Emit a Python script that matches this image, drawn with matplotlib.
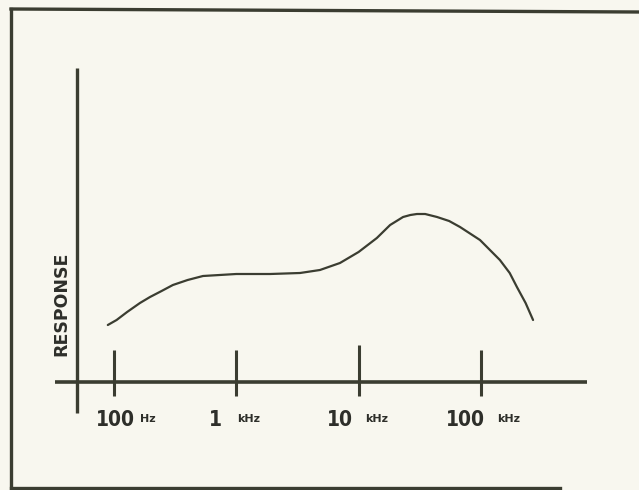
import matplotlib
matplotlib.use("Agg")
from matplotlib import pyplot as plt
import numpy as np

# frequency (Hz) and relative response
freq = [89, 105, 128, 163, 197, 245, 303, 400, 534, 1000, 1890, 3320,
        4830, 7040, 10000, 14100, 18100, 23100, 26500, 30000, 35000, 43800,
        55000, 67500, 98300, 143000, 172000, 197000, 232000, 267000]
resp = [57, 62, 70, 79, 85, 91, 97, 102, 106, 108, 108, 109,
        112, 119, 130, 144, 157, 165, 167, 168, 168, 165,
        161, 155, 142, 122, 109, 95, 79, 62]

tick_freq = [100, 1000, 10000, 100000]
tick_top = [32, 32, 37, 32]
tick_num = ["100", "1", "10", "100"]
tick_unit = ["Hz", "kHz", "kHz", "kHz"]
# right edge of the number / left edge of the unit, in px of the drawing
num_right = [135, 222, 353, 485]
unit_left = [140, 237, 365, 497]

ink = "#3b3d31"
text_ink = "#2e2f2a"
paper = "#f8f7ef"


def px2f(px):  # horizontal pixel -> frequency
    return 10**(2 + (px - 114) / 122.3)


fig = plt.figure(figsize=(6.39, 4.90), dpi=100)
fig.patch.set_facecolor(paper)
ax = fig.add_axes([0, 0, 1, 1])
ax.set_facecolor(paper)
ax.set_xscale("log")
# 1 decade ~ 122 px, 100 Hz at x=114 px ; response 0 at y=382 px
ax.set_xlim(px2f(0), px2f(639))
ax.set_ylim(-108, 382)
ax.axis("off")

# border of the figure
fig.add_artist(plt.Line2D([11/639, 11/639], [1-9/490, 1-488/490], color=ink, lw=2.4))
fig.add_artist(plt.Line2D([11/639, 1.0], [1-9/490, 1-12/490], color=ink, lw=2.4))
fig.add_artist(plt.Line2D([11/639, 560/639], [1-488/490, 1-488/490], color=ink, lw=2.4))

# axes drawn by hand
ax.plot([px2f(77), px2f(77)], [-31, 314], color=ink, lw=2.4, solid_capstyle="butt")
ax.plot([px2f(55), px2f(587)], [0, 0], color=ink, lw=2.6, solid_capstyle="butt")

for f, top in zip(tick_freq, tick_top):
    ax.plot([f, f], [-14, top], color=ink, lw=2.2, solid_capstyle="butt")

# response curve
ax.plot(freq, resp, color=ink, lw=1.6, solid_capstyle="round",
        solid_joinstyle="round")

# tick labels: big number + small unit
for n, u, r, l in zip(tick_num, tick_unit, num_right, unit_left):
    ax.text(px2f(r), -38, n, ha="right", va="center", fontsize=15,
            fontweight="bold", fontstretch="condensed", color=text_ink)
    ax.text(px2f(l), -37, u, ha="left", va="center", fontsize=8,
            fontweight="bold", color=text_ink)

ax.text(px2f(61), 78, "RESPONSE", rotation=90,
        ha="center", va="center", fontsize=12.5, fontweight="bold", color=text_ink)

fig.savefig("out.png", dpi=100, facecolor=paper)
